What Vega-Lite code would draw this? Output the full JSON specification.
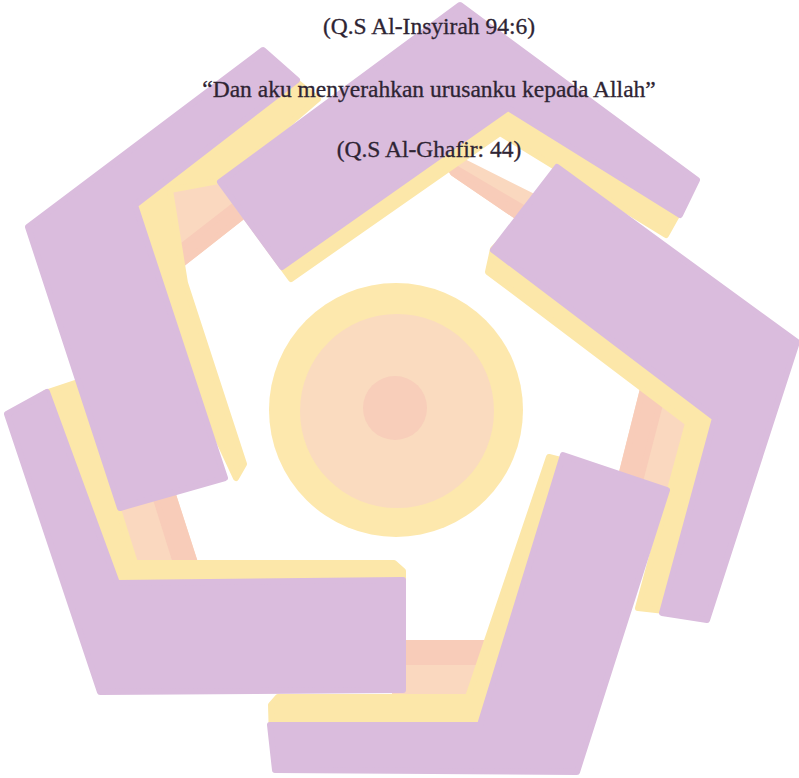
{
  "$schema": "https://vega.github.io/schema/vega-lite/v6.json",
  "width": 799,
  "height": 778,
  "padding": 0,
  "autosize": {"type": "none"},
  "background": "white",
  "config": {"view": {"stroke": null}},
  "projection": {"type": "identity", "scale": 1, "translate": [0, 0]},
  "datasets": {
    "shapes": [
      {"type": "Feature", "properties": {"arm": "A", "tone": "salmon"}, "geometry": {"type": "Polygon", "coordinates": [[[440,150],[620,240],[610,280],[453,173],[440,150]]]}},
      {"type": "Feature", "properties": {"arm": "B", "tone": "salmon"}, "geometry": {"type": "Polygon", "coordinates": [[[643,389],[700,389],[665,520],[610,520],[643,389]]]}},
      {"type": "Feature", "properties": {"arm": "C", "tone": "salmon"}, "geometry": {"type": "Polygon", "coordinates": [[[395,643],[492,643],[478,700],[395,700],[395,643]]]}},
      {"type": "Feature", "properties": {"arm": "D", "tone": "salmon"}, "geometry": {"type": "Polygon", "coordinates": [[[105,445],[157,445],[195,563],[128,563],[105,445]]]}},
      {"type": "Feature", "properties": {"arm": "E", "tone": "salmon"}, "geometry": {"type": "Polygon", "coordinates": [[[165,188],[232,172],[270,195],[177,268],[165,188]]]}},
      {"type": "Feature", "properties": {"arm": "A", "tone": "pink"}, "geometry": {"type": "Polygon", "coordinates": [[[447,163],[615,262],[610,280],[453,173],[447,163]]]}},
      {"type": "Feature", "properties": {"arm": "B", "tone": "pink"}, "geometry": {"type": "Polygon", "coordinates": [[[643,389],[664,389],[630,520],[610,520],[643,389]]]}},
      {"type": "Feature", "properties": {"arm": "C", "tone": "pink"}, "geometry": {"type": "Polygon", "coordinates": [[[395,643],[492,643],[488,662],[395,662],[395,643]]]}},
      {"type": "Feature", "properties": {"arm": "D", "tone": "pink"}, "geometry": {"type": "Polygon", "coordinates": [[[139,445],[157,445],[195,563],[176,563],[139,445]]]}},
      {"type": "Feature", "properties": {"arm": "E", "tone": "pink"}, "geometry": {"type": "Polygon", "coordinates": [[[169,256],[262,184],[270,195],[177,268],[169,256]]]}},
      {"type": "Feature", "properties": {"arm": "A", "tone": "yellow"}, "geometry": {"type": "Polygon", "coordinates": [[[229,194],[468,18],[690,192],[666,235],[500,133],[291,279],[229,194]]]}},
      {"type": "Feature", "properties": {"arm": "B", "tone": "yellow"}, "geometry": {"type": "Polygon", "coordinates": [[[493,249],[555,185],[780,350],[700,615],[638,608],[688,423],[488,272],[493,249]]]}},
      {"type": "Feature", "properties": {"arm": "C", "tone": "yellow"}, "geometry": {"type": "Polygon", "coordinates": [[[549,457],[600,470],[560,740],[272,740],[271,705],[278,697],[468,697],[549,457]]]}},
      {"type": "Feature", "properties": {"arm": "D", "tone": "yellow"}, "geometry": {"type": "Polygon", "coordinates": [[[45,393],[78,382],[135,563],[394,563],[403,571],[403,590],[120,600],[45,393]]]}},
      {"type": "Feature", "properties": {"arm": "E", "tone": "yellow"}, "geometry": {"type": "Polygon", "coordinates": [[[40,232],[272,62],[318,99],[224,180],[170,190],[185,283],[244,464],[236,478],[130,250],[40,232]]]}},
      {"type": "Feature", "properties": {"arm": "A", "tone": "purple"}, "geometry": {"type": "Polygon", "coordinates": [[[220,182],[460,5],[697,180],[680,215],[508,108],[282,267],[220,182]]]}},
      {"type": "Feature", "properties": {"arm": "B", "tone": "purple"}, "geometry": {"type": "Polygon", "coordinates": [[[557,167],[797,342],[707,620],[662,613],[715,418],[493,250],[557,167]]]}},
      {"type": "Feature", "properties": {"arm": "C", "tone": "purple"}, "geometry": {"type": "Polygon", "coordinates": [[[563,455],[667,490],[577,772],[275,770],[270,725],[480,725],[563,455]]]}},
      {"type": "Feature", "properties": {"arm": "D", "tone": "purple"}, "geometry": {"type": "Polygon", "coordinates": [[[7,414],[47,392],[117,583],[403,580],[403,690],[100,692],[7,414]]]}},
      {"type": "Feature", "properties": {"arm": "E", "tone": "purple"}, "geometry": {"type": "Polygon", "coordinates": [[[28,227],[263,50],[297,80],[135,205],[225,478],[120,508],[28,227]]]}}
    ],
    "discs": [
      {"ring": "outer", "cx": 396, "cy": 410},
      {"ring": "middle", "cx": 397, "cy": 411},
      {"ring": "core", "cx": 395, "cy": 408}
    ],
    "lines": [
      {"line": 1, "text": "(Q.S Al-Insyirah 94:6)", "tx": 429, "ty": 34},
      {"line": 2, "text": "“Dan aku menyerahkan urusanku kepada Allah”", "tx": 429, "ty": 97},
      {"line": 3, "text": "(Q.S Al-Ghafir: 44)", "tx": 429, "ty": 157}
    ]
  },
  "layer": [
    {
      "data": {"name": "shapes"},
      "mark": {"type": "geoshape", "strokeWidth": 6, "strokeJoin": "round"},
      "encoding": {
        "color": {
          "field": "properties.tone",
          "type": "nominal",
          "scale": {"domain": ["salmon", "pink", "yellow", "purple"], "range": ["#FAD8BF", "#F8CCB9", "#FCE7A9", "#DABCDD"]},
          "legend": null
        },
        "stroke": {
          "field": "properties.tone",
          "type": "nominal",
          "scale": {"domain": ["salmon", "pink", "yellow", "purple"], "range": ["#FAD8BF", "#F8CCB9", "#FCE7A9", "#DABCDD"]},
          "legend": null
        }
      }
    },
    {
      "data": {"name": "discs"},
      "transform": [{"filter": "datum.ring === 'outer'"}],
      "mark": {"type": "circle", "size": 64516, "opacity": 1, "color": "#FDE8AD"},
      "encoding": {
        "longitude": {"field": "cx", "type": "quantitative"},
        "latitude": {"field": "cy", "type": "quantitative"}
      }
    },
    {
      "data": {"name": "discs"},
      "transform": [{"filter": "datum.ring === 'middle'"}],
      "mark": {"type": "circle", "size": 37636, "opacity": 1, "color": "#FADBBF"},
      "encoding": {
        "longitude": {"field": "cx", "type": "quantitative"},
        "latitude": {"field": "cy", "type": "quantitative"}
      }
    },
    {
      "data": {"name": "discs"},
      "transform": [{"filter": "datum.ring === 'core'"}],
      "mark": {"type": "circle", "size": 4096, "opacity": 1, "color": "#F8CEBA"},
      "encoding": {
        "longitude": {"field": "cx", "type": "quantitative"},
        "latitude": {"field": "cy", "type": "quantitative"}
      }
    },
    {
      "data": {"name": "lines"},
      "mark": {"type": "text", "font": "Liberation Serif", "fontSize": 23.5, "align": "center", "baseline": "alphabetic", "color": "#2e2433", "stroke": "#2e2433", "strokeWidth": 0.3},
      "encoding": {
        "longitude": {"field": "tx", "type": "quantitative"},
        "latitude": {"field": "ty", "type": "quantitative"},
        "text": {"field": "text", "type": "nominal"}
      }
    }
  ]
}
